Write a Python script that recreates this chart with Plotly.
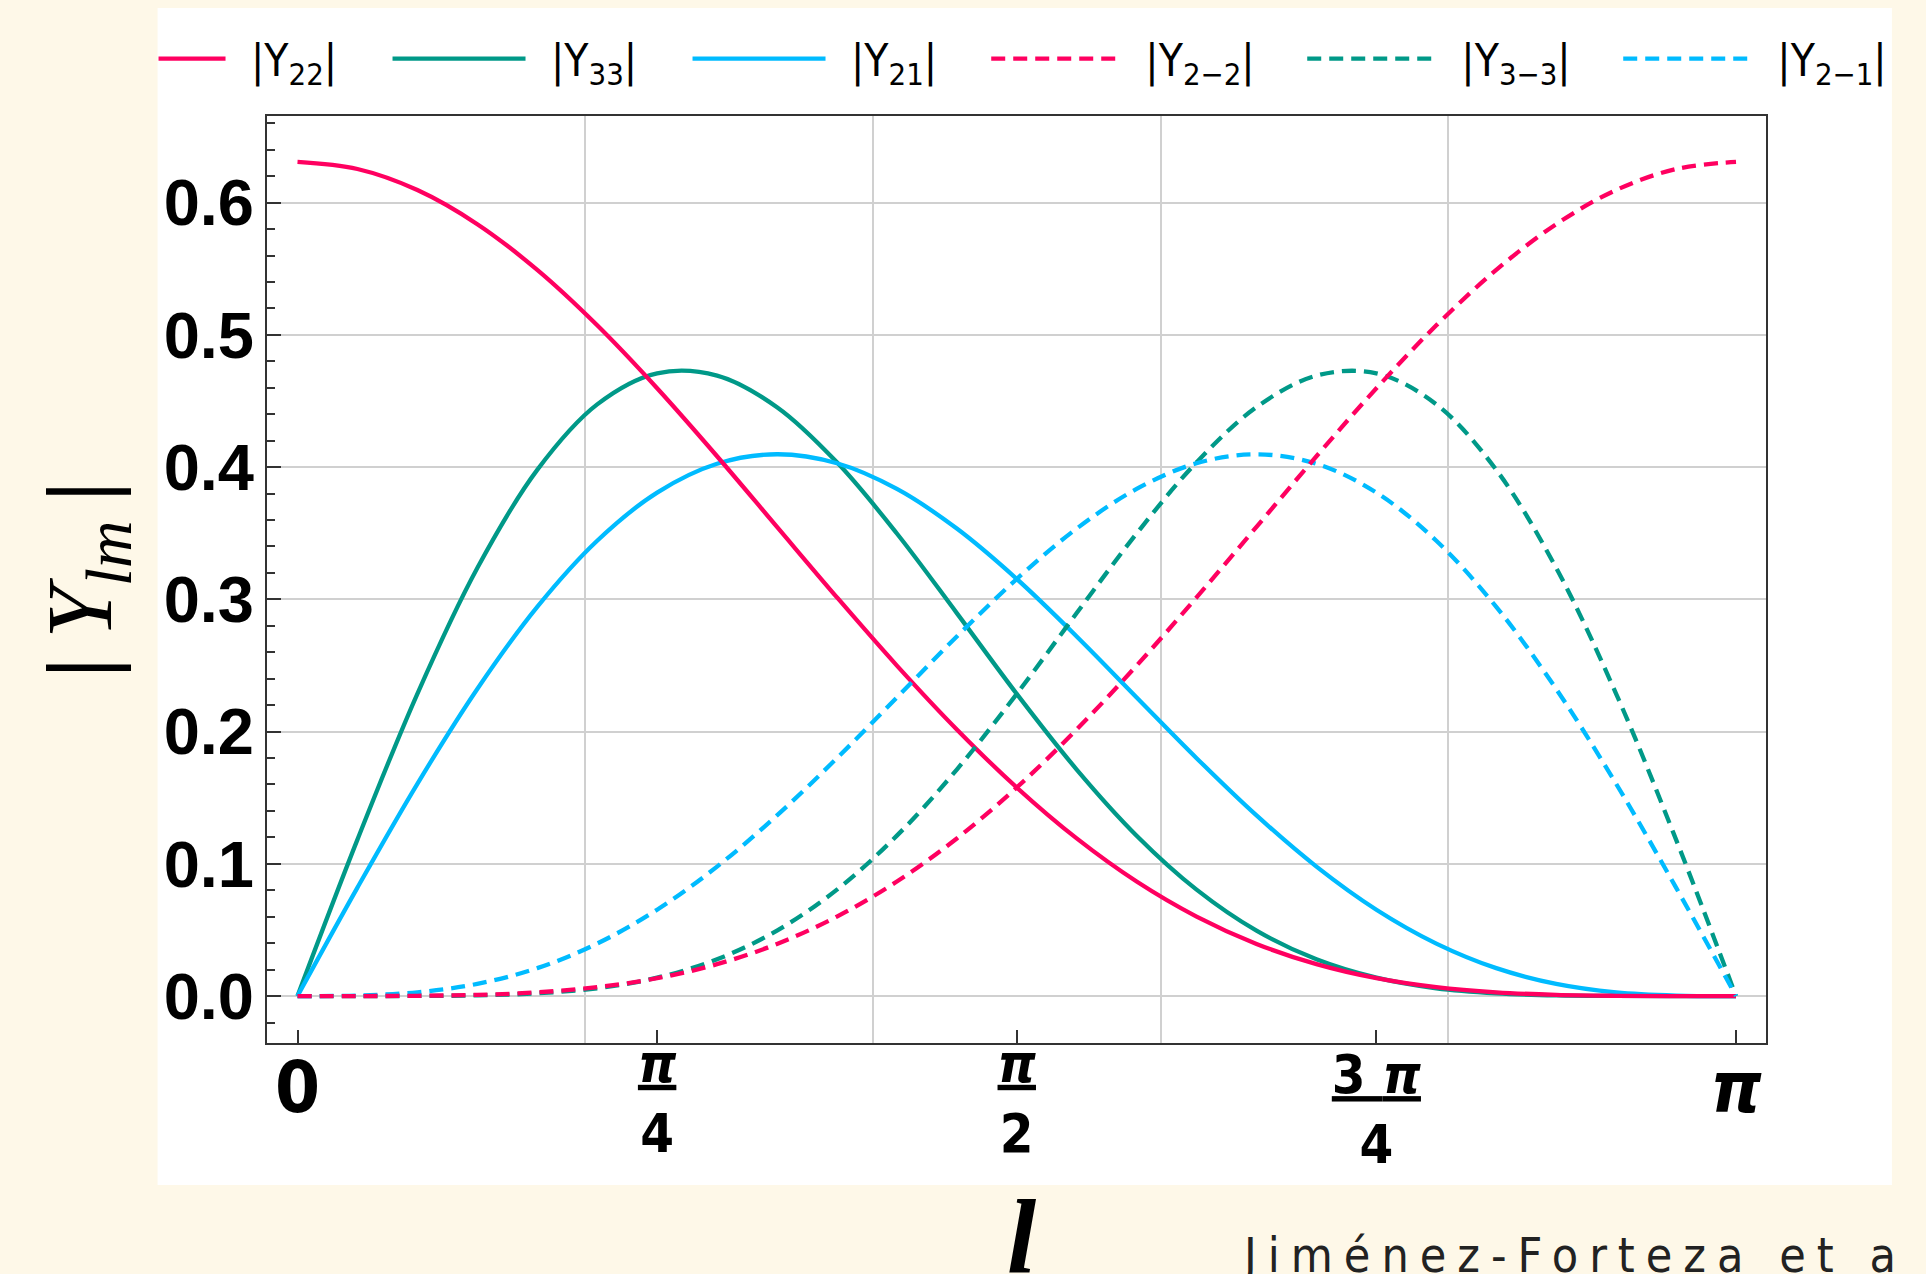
import math
import plotly.graph_objects as go

# ---------------- data ----------------
theta = [0.0000, 0.1309, 0.2618, 0.3927, 0.5236, 0.6545, 0.7854, 0.9163, 1.0472,
         1.1781, 1.3090, 1.4399, 1.5708, 1.7017, 1.8326, 1.9635, 2.0944, 2.2253,
         2.3562, 2.4871, 2.6180, 2.7489, 2.8798, 3.0107, 3.1416]

y22 = [0.6308, 0.6254, 0.6095, 0.5837, 0.5491, 0.5072, 0.4596, 0.4082, 0.3548,
       0.3015, 0.2499, 0.2016, 0.1577, 0.1192, 0.0866, 0.0601, 0.0394, 0.0241,
       0.0135, 0.0067, 0.0028, 0.0009, 0.0002, 0.0000, 0.0000]
y33 = [0.0000, 0.1183, 0.2286, 0.3237, 0.3979, 0.4474, 0.4709, 0.4692, 0.4453,
       0.4036, 0.3498, 0.2896, 0.2285, 0.1713, 0.1213, 0.0805, 0.0495, 0.0278,
       0.0139, 0.0059, 0.0021, 0.0005, 0.0001, 0.0000, 0.0000]
y21 = [0.0000, 0.0820, 0.1605, 0.2322, 0.2943, 0.3443, 0.3807, 0.4025, 0.4097,
       0.4029, 0.3835, 0.3535, 0.3154, 0.2719, 0.2258, 0.1799, 0.1366, 0.0979,
       0.0653, 0.0397, 0.0211, 0.0092, 0.0028, 0.0004, 0.0000]
y2m2 = [0.0000, 0.0000, 0.0002, 0.0009, 0.0028, 0.0067, 0.0135, 0.0241, 0.0394,
        0.0601, 0.0866, 0.1192, 0.1577, 0.2016, 0.2499, 0.3015, 0.3548, 0.4082,
        0.4596, 0.5072, 0.5491, 0.5837, 0.6095, 0.6254, 0.6308]
y3m3 = [0.0000, 0.0000, 0.0001, 0.0005, 0.0021, 0.0059, 0.0139, 0.0278, 0.0495,
        0.0805, 0.1213, 0.1713, 0.2285, 0.2896, 0.3498, 0.4036, 0.4453, 0.4692,
        0.4709, 0.4474, 0.3979, 0.3237, 0.2286, 0.1183, 0.0000]
y2m1 = [0.0000, 0.0004, 0.0028, 0.0092, 0.0211, 0.0397, 0.0653, 0.0979, 0.1366,
        0.1799, 0.2258, 0.2719, 0.3154, 0.3535, 0.3835, 0.4029, 0.4097, 0.4025,
        0.3807, 0.3443, 0.2943, 0.2322, 0.1605, 0.0820, 0.0000]

name_22 = "|Y<sub>22</sub>|"
name_33 = "|Y<sub>33</sub>|"
name_21 = "|Y<sub>21</sub>|"
name_2m2 = "|Y<sub>2\u22122</sub>|"
name_3m3 = "|Y<sub>3\u22123</sub>|"
name_2m1 = "|Y<sub>2\u22121</sub>|"

x_tick_vals = [0, math.pi / 4, math.pi / 2, 3 * math.pi / 4, math.pi]
x_tick_text = ["",
               '<span style="text-decoration:underline"><i>\u03c0</i></span><br>4',
               '<span style="text-decoration:underline"><i>\u03c0</i></span><br>2',
               '<sub><span style="font-size:54px;text-decoration:underline">3 <i>\u03c0</i></span></sub>'
               '<br><sub><span style="font-size:54px">4</span></sub>',
               ""]
x_end_vals = [0, math.pi]
x_end_text = ["0", "<i>\u03c0</i>"]
x_grid_vals = [0.6283, 1.2566, 1.8850, 2.5133]

y_tick_vals = [0.0, 0.1, 0.2, 0.3, 0.4, 0.5, 0.6]
y_tick_text = ["0.0", "0.1", "0.2", "0.3", "0.4", "0.5", "0.6"]

# ---------------- style ----------------
RED = "#FF0060"
GREEN = "#009988"
BLUE = "#00BBFF"
CREAM = "#FEF8E8"
GRID = "#D0D0D0"
AXIS = "#333333"
NARROW = "Liberation Sans Narrow, DejaVu Sans Condensed, Arial Narrow, Liberation Sans, sans-serif"
SANS = "Liberation Sans, Arial, sans-serif"
SERIF = "Liberation Serif, Times New Roman, serif"
DASH = "14px,8px"
LW = 4.3

XR = [-0.0666, 3.2071]
YR = [-0.0355, 0.6655]

# drawing order: green, blue, red (red on top); legend order kept with legendrank
traces = [
    (y33, name_33, GREEN, "solid", "legend2", 2),
    (y21, name_21, BLUE, "solid", "legend2", 3),
    (y22, name_22, RED, "solid", "legend", 1),
    (y3m3, name_3m3, GREEN, DASH, "legend3", 5),
    (y2m1, name_2m1, BLUE, DASH, "legend3", 6),
    (y2m2, name_2m2, RED, DASH, "legend3", 4),
]

fig = go.Figure()
for vals, name, color, dash, leg, rank in traces:
    pad = "\u00a0\u202f" if dash == "solid" else "\u00a0\u00a0"
    fig.add_trace(go.Scatter(
        x=theta, y=vals, mode="lines", name=pad + name, legend=leg, legendrank=rank,
        line=dict(color=color, width=LW, dash=dash, shape="spline", smoothing=1.0),
        hoverinfo="skip",
    ))

# empty traces so that the helper x-axes (grid, end labels) are drawn
for ax in ("x2", "x3"):
    fig.add_trace(go.Scatter(x=[], y=[], xaxis=ax, showlegend=False, hoverinfo="skip"))

legend_font = dict(family=NARROW, size=44, color="black")
common_leg = dict(orientation="h", xanchor="left", yanchor="middle", y=1.0615,
                  bgcolor="rgba(0,0,0,0)", borderwidth=0, font=legend_font,
                  traceorder="normal")

frac_font = dict(family=NARROW, size=54, color="black", weight="bold")

fig.update_layout(
    width=1926, height=1274,
    paper_bgcolor=CREAM, plot_bgcolor="white",
    margin=dict(l=266.5, r=160, t=116, b=231, autoexpand=False),
    showlegend=True,
    legend=dict(common_leg, x=-0.0757, itemwidth=67),
    legend2=dict(common_leg, x=0.0804, itemwidth=133, entrywidth=152, entrywidthmode="pixels"),
    legend3=dict(common_leg, x=0.4798, itemwidth=124, entrywidth=177, entrywidthmode="pixels"),
    xaxis=dict(range=XR, tickmode="array", tickvals=x_tick_vals, ticktext=x_tick_text,
               ticks="inside", ticklen=13, tickwidth=2, tickcolor=AXIS,
               showline=True, linewidth=2, linecolor=AXIS, mirror=True,
               showgrid=False, zeroline=False, automargin=False,
               ticklabelstandoff=-28, tickfont=frac_font),
    xaxis2=dict(range=XR, overlaying="x", anchor="y", side="bottom",
                tickmode="array", tickvals=x_grid_vals, showticklabels=False, ticks="",
                showgrid=True, gridcolor=GRID, gridwidth=1.6, showline=False,
                zeroline=False, automargin=False),
    xaxis3=dict(range=XR, overlaying="x", anchor="y", side="bottom",
                tickmode="array", tickvals=x_end_vals, ticktext=x_end_text, ticks="",
                showgrid=False, showline=False, zeroline=False, automargin=False,
                ticklabelstandoff=-4,
                tickfont=dict(family=NARROW, size=72, color="black", weight="bold")),
    yaxis=dict(range=YR, tickmode="array", tickvals=y_tick_vals, ticktext=y_tick_text,
               ticks="inside", ticklen=14, tickwidth=2, tickcolor=AXIS,
               minor=dict(tickmode="linear", tick0=0, dtick=0.02, ticks="inside",
                          ticklen=8, tickwidth=2, tickcolor=AXIS, showgrid=False),
               showgrid=True, gridcolor=GRID, gridwidth=1.6,
               showline=True, linewidth=2, linecolor=AXIS, mirror=True,
               zeroline=False, automargin=False, ticklabelstandoff=-2,
               tickfont=dict(family=SANS, size=65, color="black", weight="bold")),
)

# white panel behind the chart
fig.add_shape(type="rect", xref="paper", yref="paper",
              x0=-0.0730, x1=1.0840, y0=-0.1532, y1=1.1165,
              fillcolor="white", line_width=0, layer="below")

# axis titles
fig.add_annotation(text="<b>|</b>\u2009<i>Y</i><sub><i>lm</i></sub>\u2009<b>|</b>",
                   xref="paper", yref="paper", x=-0.121, y=0.5,
                   xanchor="center", yanchor="middle", textangle=-90, showarrow=False,
                   font=dict(family=SERIF, size=94, color="black"))
fig.add_annotation(text="<b><i>l</i></b>",
                   xref="paper", yref="paper", x=0.504, y=-0.2093,
                   xanchor="center", yanchor="middle", showarrow=False,
                   font=dict(family=SERIF, size=105, color="black"))
# credit
fig.add_annotation(text='<span style="letter-spacing:11px">Jim\u00e9nez-Forteza et a</span>',
                   xref="paper", yref="paper", x=0.6485, y=-0.2287,
                   xanchor="left", yanchor="middle", showarrow=False,
                   font=dict(family=NARROW, size=48, color="#222222"))

fig.write_html("out.html")
